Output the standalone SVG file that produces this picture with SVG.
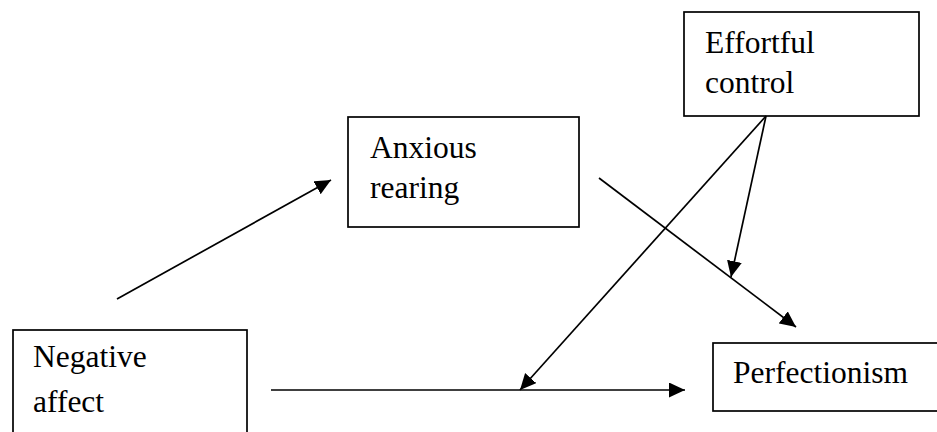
<svg xmlns="http://www.w3.org/2000/svg" width="937" height="432" viewBox="0 0 937 432">
<style>
.box{fill:#fff;stroke:#000;stroke-width:1.7}
.lbl{font-family:"Liberation Serif","Times New Roman",serif;font-size:31.5px;fill:#000}
.con{stroke:#000;stroke-width:1.7;fill:none;marker-end:url(#ah)}
</style>
<defs>
<marker id="ah" markerUnits="userSpaceOnUse" markerWidth="18" markerHeight="16" refX="16" refY="7.5" orient="auto">
<path d="M0,0 L16,7.5 L0,15 z" fill="#000"/>
</marker>
</defs>
<rect width="937" height="432" fill="#fff"/>
<g id="negative-affect">
<rect class="box" x="13" y="330" width="234" height="110"/>
<text class="lbl" x="33" y="367">Negative</text>
<text class="lbl" x="33" y="412">affect</text>
</g>
<g id="anxious-rearing">
<rect class="box" x="348" y="117" width="231" height="110"/>
<text class="lbl" x="370" y="158">Anxious</text>
<text class="lbl" x="370" y="198">rearing</text>
</g>
<g id="effortful-control">
<rect class="box" x="684" y="12" width="235" height="104"/>
<text class="lbl" x="705" y="53">Effortful</text>
<text class="lbl" x="705" y="93">control</text>
</g>
<g id="perfectionism">
<rect class="box" x="713" y="343" width="240" height="68"/>
<text class="lbl" x="733" y="383">Perfectionism</text>
</g>
<g id="connectors">
<line class="con" x1="117" y1="299" x2="331" y2="180"/>
<line class="con" x1="271" y1="390" x2="685" y2="390"/>
<line class="con" x1="599" y1="178" x2="796" y2="327"/>
<line class="con" x1="766" y1="116" x2="520" y2="390"/>
<line class="con" x1="766" y1="116" x2="731" y2="277"/>
</g>
</svg>
